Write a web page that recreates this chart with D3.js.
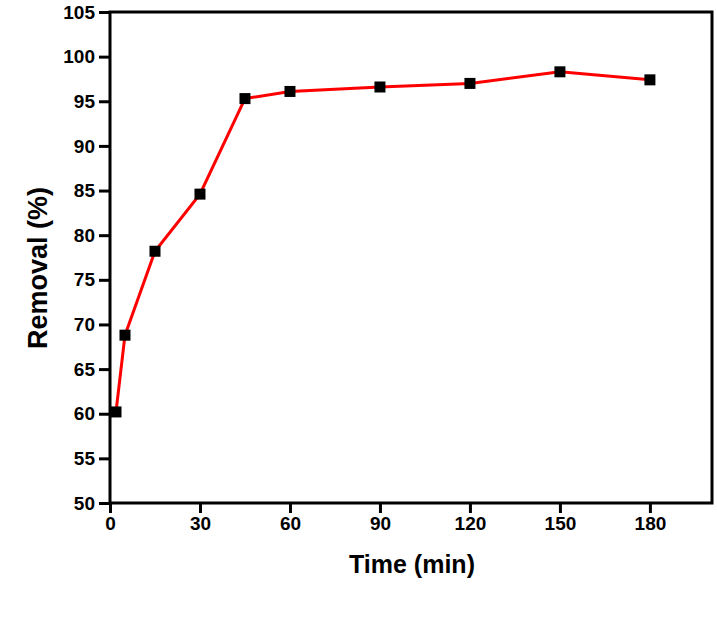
<!DOCTYPE html>
<html><head><meta charset="utf-8">
<script src="https://cdn.jsdelivr.net/npm/d3@7"></script>
<style>body{margin:0;background:#fff}svg{display:block}</style>
</head><body>
<svg id="c" width="717" height="619"></svg>
<script>
const times = [2, 5, 15, 30, 45, 60, 90, 120, 150, 180];
const removal = [60.2, 68.8, 78.2, 84.6, 95.3, 96.1, 96.6, 97.0, 98.3, 97.4];
const xTicks = [0, 30, 60, 90, 120, 150, 180];
const yTicks = [50, 55, 60, 65, 70, 75, 80, 85, 90, 95, 100, 105];

const svg = d3.select("#c");
const L = 110, R = 712, T = 12, B = 503;
const x = d3.scaleLinear().domain([0, 200.7]).range([L, R]);
const y = d3.scaleLinear().domain([50, 105]).range([B, T]);
const font = "'Liberation Sans', Arial, sans-serif";

// frame
svg.append("rect").attr("x", L).attr("y", T).attr("width", R - L).attr("height", B - T)
  .attr("fill", "none").attr("stroke", "#000").attr("stroke-width", 3);

const xa = svg.append("g").attr("transform", `translate(0,${B})`)
  .call(d3.axisBottom(x).tickValues(xTicks).tickSize(10).tickPadding(4).tickSizeOuter(0));
const ya = svg.append("g").attr("transform", `translate(${L},0)`)
  .call(d3.axisLeft(y).tickValues(yTicks).tickSize(11).tickPadding(4).tickSizeOuter(0));
[xa, ya].forEach(a => {
  a.select(".domain").remove();
  a.selectAll("line").attr("stroke", "#000").attr("stroke-width", 3);
  a.selectAll("text").attr("fill", "#000").style("font-family", font)
    .style("font-size", "19px").style("font-weight", "bold");
});

const pts = times.map((t, i) => [t, removal[i]]);
svg.append("path").datum(pts)
  .attr("d", d3.line().x(d => x(d[0])).y(d => y(d[1])))
  .attr("fill", "none").attr("stroke", "#ff0000").attr("stroke-width", 3);

const s = 11;
svg.selectAll("rect.m").data(pts).enter().append("rect").attr("class", "m")
  .attr("x", d => x(d[0]) - s / 2).attr("y", d => y(d[1]) - s / 2)
  .attr("width", s).attr("height", s).attr("fill", "#000");

svg.append("text").attr("x", 412).attr("y", 573).attr("text-anchor", "middle")
  .style("font-family", font).style("font-size", "25px").style("font-weight", "bold")
  .text("Time (min)");
svg.append("text").attr("transform", "translate(47,268) rotate(-90)").attr("text-anchor", "middle")
  .style("font-family", font).style("font-size", "27px").style("font-weight", "bold")
  .text("Removal (%)");
</script>
</body></html>
